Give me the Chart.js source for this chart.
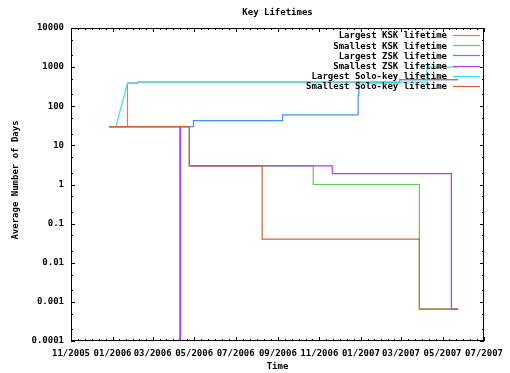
<!DOCTYPE html>
<html>
<head>
<meta charset="utf-8">
<title>Key Lifetimes</title>
<script src="https://cdn.jsdelivr.net/npm/chart.js@4.4.1/dist/chart.umd.min.js"></script>
<style>
  html, body { margin: 0; padding: 0; background: #fff; }
  canvas { display: block; }
</style>
</head>
<body>
<canvas id="chart" width="510" height="373"></canvas>
<script>
// Values (dates as YYYY-MM-DD, days on a log axis)
const seriesNames = ['Largest KSK lifetime', 'Smallest KSK lifetime', 'Largest ZSK lifetime',
  'Smallest ZSK lifetime', 'Largest Solo-key lifetime', 'Smallest Solo-key lifetime'];
const seriesColors = ['#ff6a6a', '#5ccc5c', '#3a94ff', '#b43cf0', '#30e6e6', '#cc6436'];

const largestKskDates = ['2005-12-27', '2006-01-23', '2006-02-07', '2007-02-27', '2007-05-24'];
const largestKskValues = [30, 390, 415, 480, 480];

const smallestKskDates = ['2005-12-27', '2006-04-24', '2006-10-23', '2007-03-28', '2007-05-24'];
const smallestKskValues = [30, 3, 1, 0.00065, 0.00065];

const largestZskDates = ['2005-12-27', '2006-04-30', '2006-09-08', '2006-12-28', '2006-12-29', '2007-02-27', '2007-05-24'];
const largestZskValues = [30, 43, 60, 190, 395, 480, 480];

const smallestZskDates = ['2005-12-27', '2006-04-10', '2006-04-11', '2006-04-24', '2006-11-20', '2007-05-14', '2007-05-24'];
const smallestZskValues = [30, 0.00001, 30, 3, 1.9, 0.00065, 0.00065];

// this one is drawn point to point (the first rise is a slope)
const largestSoloDates = ['2006-01-06', '2006-01-23', '2006-02-07', '2006-02-07', '2007-04-08', '2007-04-08', '2007-05-24'];
const largestSoloValues = [30, 390, 390, 415, 415, 1000, 1000];

const smallestSoloDates = ['2005-12-27', '2006-04-24', '2006-08-09', '2007-03-28', '2007-05-24'];
const smallestSoloValues = [30, 3, 0.04, 0.00065, 0.00065];

const xTickLabels = ['11/2005', '01/2006', '03/2006', '05/2006', '07/2006', '09/2006',
  '11/2006', '01/2007', '03/2007', '05/2007', '07/2007'];
const yTickValues = [10000, 1000, 100, 10, 1, 0.1, 0.01, 0.001, 0.0001];
const yTickLabels = ['10000', '1000', '100', '10', '1', '0.1', '0.01', '0.001', '0.0001'];

// days since 2005-11-01
const base = Date.UTC(2005, 10, 1);
function dayOf(s){
  const [y, m, d] = s.split('-').map(Number);
  return (Date.UTC(y, m - 1, d) - base) / 86400000;
}
function dayOfLabel(l){
  const [m, y] = l.split('/');
  return dayOf(`${y}-${m}-01`);
}
const xTickDays = xTickLabels.map(dayOfLabel);

function points(dates, values){
  return dates.map((d, i) => ({x: dayOf(d), y: values[i]}));
}

// 'before' = hold the previous value until the next date, then jump
const allSeries = [
  [largestKskDates, largestKskValues, 'before'],
  [smallestKskDates, smallestKskValues, 'before'],
  [largestZskDates, largestZskValues, 'before'],
  [smallestZskDates, smallestZskValues, 'before'],
  [largestSoloDates, largestSoloValues, false],
  [smallestSoloDates, smallestSoloValues, 'before']
];

const datasets = allSeries.map(([d, v, step], i) => ({
  label: seriesNames[i],
  data: points(d, v),
  borderColor: seriesColors[i],
  borderWidth: 1.2,
  pointRadius: 0,
  fill: false,
  stepped: step,
  tension: 0,
  order: 6 - i   // gnuplot draws later curves on top
}));

const FONT = '"DejaVu Sans Mono", monospace';

// frame, mirrored ticks, key and titles the gnuplot way
const gnuplotFrame = {
  id: 'gnuplotFrame',
  afterDraw(chart){
    const {ctx, chartArea: a} = chart;
    const xs = chart.scales.x, ys = chart.scales.y;
    ctx.save();
    ctx.strokeStyle = '#000';
    ctx.lineWidth = 1;
    ctx.strokeRect(a.left + 0.5, a.top + 0.5, a.right - a.left - 1, a.bottom - a.top - 1);

    ctx.beginPath();
    // y ticks
    yTickValues.forEach(v => {
      const py = Math.round(ys.getPixelForValue(v)) + 0.5;
      ctx.moveTo(a.left, py); ctx.lineTo(a.left + 4, py);
      ctx.moveTo(a.right, py); ctx.lineTo(a.right - 4, py);
      [2, 5].forEach(k => {
        const mv = v * k;
        if (mv >= 10000) return;
        const my = Math.round(ys.getPixelForValue(mv)) + 0.5;
        ctx.moveTo(a.left, my); ctx.lineTo(a.left + 2, my);
        ctx.moveTo(a.right, my); ctx.lineTo(a.right - 2, my);
      });
    });
    // x ticks
    xTickDays.forEach((d, i) => {
      const px = Math.round(xs.getPixelForValue(d)) + 0.5;
      ctx.moveTo(px, a.bottom); ctx.lineTo(px, a.bottom - 4);
      ctx.moveTo(px, a.top); ctx.lineTo(px, a.top + 4);
      if (i < xTickDays.length - 1){
        const step = (xTickDays[i + 1] - d) / 6;
        for (let k = 1; k < 6; k++){
          const mx = Math.round(xs.getPixelForValue(d + k * step)) + 0.5;
          ctx.moveTo(mx, a.bottom); ctx.lineTo(mx, a.bottom - 2);
          ctx.moveTo(mx, a.top); ctx.lineTo(mx, a.top + 2);
        }
      }
    });
    ctx.stroke();

    // key
    ctx.font = 'bold 9px ' + FONT;
    ctx.fillStyle = '#000';
    ctx.textAlign = 'right';
    ctx.textBaseline = 'middle';
    seriesNames.forEach((n, i) => {
      const ry = 36 + i * 10.2;
      ctx.fillText(n, 447, ry);
      ctx.beginPath();
      ctx.strokeStyle = seriesColors[i];
      ctx.lineWidth = 1.2;
      ctx.moveTo(453, Math.round(ry) - 0.5);
      ctx.lineTo(480, Math.round(ry) - 0.5);
      ctx.stroke();
    });

    // titles
    ctx.fillStyle = '#000';
    ctx.textAlign = 'center';
    ctx.fillText('Key Lifetimes', (a.left + a.right) / 2, 13);
    ctx.fillText('Time', (a.left + a.right) / 2, 367);
    ctx.translate(16, 180);
    ctx.rotate(-Math.PI / 2);
    ctx.fillText('Average Number of Days', 0, 0);
    ctx.restore();
  }
};

Chart.defaults.font.family = FONT;
Chart.defaults.font.size = 9;
Chart.defaults.font.weight = 'bold';
Chart.defaults.color = '#000';

new Chart(document.getElementById('chart'), {
  type: 'line',
  data: { datasets },
  options: {
    responsive: false,
    animation: false,
    layout: { padding: { left: 0, top: 28, right: 20, bottom: 0 } },
    plugins: { legend: { display: false }, tooltip: { enabled: false } },
    scales: {
      x: {
        type: 'linear',
        min: 0,
        max: dayOfLabel('07/2007'),
        grid: { display: false, drawTicks: false },
        border: { display: false },
        afterFit: s => { s.height = 32; },
        afterBuildTicks: s => { s.ticks = xTickDays.map(v => ({ value: v })); },
        ticks: {
          autoSkip: false,
          maxRotation: 0,
          padding: 7,
          callback: (v, i) => xTickLabels[i]
        }
      },
      y: {
        type: 'logarithmic',
        min: 0.0001,
        max: 10000,
        grid: { display: false, drawTicks: false },
        border: { display: false },
        afterFit: s => { s.width = 71; },
        afterBuildTicks: s => { s.ticks = yTickValues.map(v => ({ value: v })); },
        ticks: {
          autoSkip: false,
          padding: 7,
          callback: (v, i) => yTickLabels[i]
        }
      }
    }
  },
  plugins: [gnuplotFrame]
});
</script>
</body>
</html>
